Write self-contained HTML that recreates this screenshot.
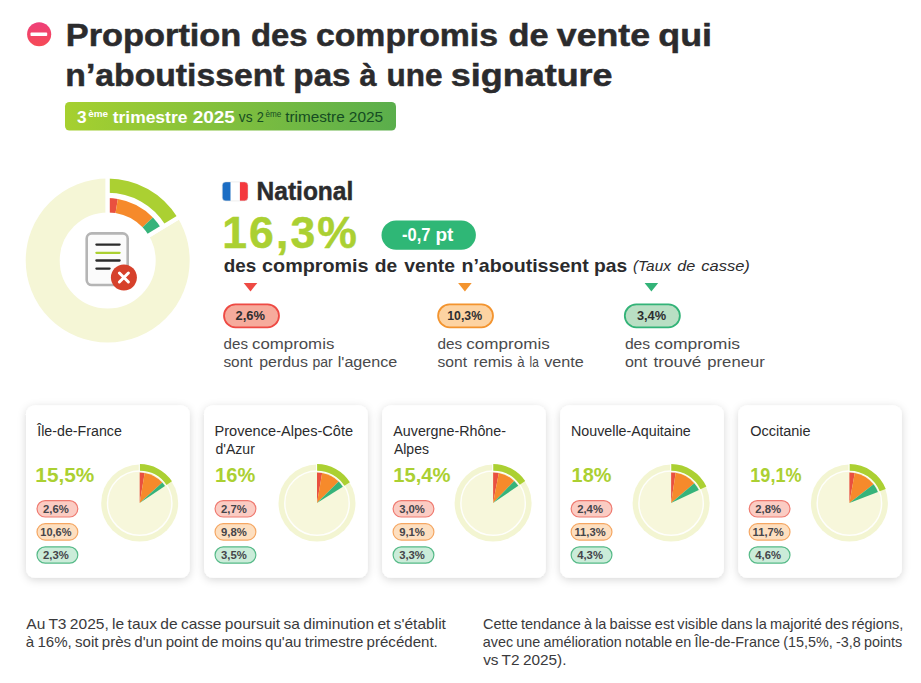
<!DOCTYPE html>
<html lang="fr"><head><meta charset="utf-8"><title>Taux de casse</title>
<style>
html,body{margin:0;padding:0;background:#fff;}
svg{display:block;}
text{font-family:"Liberation Sans",sans-serif;}
.t{font-weight:700;fill:#2b2b2d;}
</style></head><body>
<svg width="921" height="683" viewBox="0 0 921 683">
<defs>
<linearGradient id="pg" x1="0" y1="0" x2="1" y2="0"><stop offset="0" stop-color="#a6d02f"/><stop offset="1" stop-color="#5aae4c"/></linearGradient>
<linearGradient id="rg" x1="0" y1="0" x2="0" y2="1"><stop offset="0" stop-color="#ee3f7a"/><stop offset="1" stop-color="#f64a55"/></linearGradient>
<filter id="sh" x="-20%" y="-20%" width="140%" height="140%"><feDropShadow dx="0" dy="2" stdDeviation="4.5" flood-color="#000" flood-opacity="0.16"/></filter>
</defs>
<rect width="921" height="683" fill="#fff"/>

<circle cx="39.15" cy="34.2" r="12.05" fill="url(#rg)"/><rect x="30.5" y="32.6" width="16.7" height="3.4" rx="0.8" fill="#fff"/>
<text y="45.7" font-size="31.5" font-weight="700" fill="#2b2b2d" stroke="#2b2b2d" stroke-width="0.5"><tspan x="65.82" textLength="175.53" lengthAdjust="spacingAndGlyphs">Proportion</tspan> <tspan x="250.96" textLength="56.58" lengthAdjust="spacingAndGlyphs">des</tspan> <tspan x="315.93" textLength="182.13" lengthAdjust="spacingAndGlyphs">compromis</tspan> <tspan x="508.51" textLength="40.05" lengthAdjust="spacingAndGlyphs">de</tspan> <tspan x="556.8" textLength="93.29" lengthAdjust="spacingAndGlyphs">vente</tspan> <tspan x="658.26" textLength="53.73" lengthAdjust="spacingAndGlyphs">qui</tspan></text>
<text y="85.6" font-size="31.5" font-weight="700" fill="#2b2b2d" stroke="#2b2b2d" stroke-width="0.5"><tspan x="65.36" textLength="219.09" lengthAdjust="spacingAndGlyphs">n’aboutissent</tspan> <tspan x="293.39" textLength="57.15" lengthAdjust="spacingAndGlyphs">pas</tspan> <tspan x="359.5" textLength="17.03" lengthAdjust="spacingAndGlyphs">à</tspan> <tspan x="386.5" textLength="56.02" lengthAdjust="spacingAndGlyphs">une</tspan> <tspan x="450.86" textLength="161.73" lengthAdjust="spacingAndGlyphs">signature</tspan></text>
<rect x="65" y="102" width="331" height="28.5" rx="4.5" fill="url(#pg)"/>
<text font-weight="700" fill="#fff"><tspan x="77.0" y="123.1" font-size="16" textLength="9.59" lengthAdjust="spacingAndGlyphs">3</tspan><tspan x="88.2" y="117.2" font-size="9.5" textLength="19.9" lengthAdjust="spacingAndGlyphs">ème</tspan><tspan x="107.85" y="123.1" font-size="16" textLength="79.54" lengthAdjust="spacingAndGlyphs"> trimestre</tspan><tspan x="187.43" y="123.1" font-size="16" textLength="47.45" lengthAdjust="spacingAndGlyphs"> 2025</tspan></text>
<text font-weight="400" fill="#154c22"><tspan x="238.8" y="121.6" font-size="14" textLength="13.7" lengthAdjust="spacingAndGlyphs">vs</tspan><tspan x="253.15" y="121.6" font-size="14" textLength="10.65" lengthAdjust="spacingAndGlyphs"> 2</tspan><tspan x="265.6" y="116.8" font-size="8.6" textLength="15.79" lengthAdjust="spacingAndGlyphs">ème</tspan><tspan x="280.95" y="121.6" font-size="14.3" textLength="63.8" lengthAdjust="spacingAndGlyphs"> trimestre</tspan><tspan x="344.51" y="121.6" font-size="14.3" textLength="38.64" lengthAdjust="spacingAndGlyphs"> 2025</tspan></text>
<circle cx="107.7" cy="260.5" r="65" fill="none" stroke="#f5f6d6" stroke-width="34"/>
<path d="M107.70,177.00 A83.5,83.5 0 0 1 179.03,217.10 L147.42,236.33 A46.5,46.5 0 0 0 107.70,214.00 Z" fill="#fff" stroke="#fff" stroke-width="4.2"/>
<path d="M107.70,178.50 A82,82 0 0 1 177.75,217.87 L165.62,225.26 A67.8,67.8 0 0 0 107.70,192.70 Z" fill="#abd032"/>
<path d="M107.70,198.10 A62.4,62.4 0 0 1 117.85,198.93 L115.52,213.04 A48.1,48.1 0 0 0 107.70,212.40 Z" fill="#e9503f"/>
<path d="M117.85,198.93 A62.4,62.4 0 0 1 152.92,217.50 L142.56,227.35 A48.1,48.1 0 0 0 115.52,213.04 Z" fill="#f68a2b"/>
<path d="M152.92,217.50 A62.4,62.4 0 0 1 161.01,228.06 L148.79,235.50 A48.1,48.1 0 0 0 142.56,227.35 Z" fill="#36b37a"/>
<line x1="107.70" y1="214.00" x2="107.70" y2="177.00" stroke="#fff" stroke-width="4.2"/>
<line x1="147.42" y1="236.33" x2="179.03" y2="217.10" stroke="#fff" stroke-width="4.2"/>
<rect x="86.7" y="233.4" width="41" height="51.6" rx="5" fill="#fbfbfb" stroke="#b5b5b5" stroke-width="2.6"/>
<line x1="96.4" y1="244.6" x2="119.6" y2="244.6" stroke="#2b2b2b" stroke-width="2.3" stroke-linecap="round"/>
<line x1="96.4" y1="252.8" x2="119.6" y2="252.8" stroke="#abd032" stroke-width="2.3" stroke-linecap="round"/>
<line x1="96.4" y1="260.5" x2="119.6" y2="260.5" stroke="#2b2b2b" stroke-width="2.3" stroke-linecap="round"/>
<line x1="96.4" y1="268.6" x2="109.6" y2="268.6" stroke="#2b2b2b" stroke-width="2.3" stroke-linecap="round"/>
<circle cx="123.9" cy="277.5" r="13" fill="#d6412b"/><path d="M119.4,273 l9,9 M128.4,273 l-9,9" stroke="#fff" stroke-width="3" stroke-linecap="round"/>
<g><clipPath id="fl"><rect x="222.2" y="181.9" width="25.8" height="19" rx="3.6"/></clipPath><g clip-path="url(#fl)"><rect x="222.2" y="181.9" width="8.5" height="19" fill="#1b6dc4"/><rect x="230.7" y="181.9" width="9.2" height="19" fill="#fff"/><rect x="239.9" y="181.9" width="8.2" height="19" fill="#f4383d"/></g><rect x="222.2" y="181.9" width="25.8" height="19" rx="3.6" fill="none" stroke="#dcdcdc" stroke-width="0.5"/></g>
<text y="199.7" font-size="25.8" font-weight="700" fill="#2b2b2d" stroke="#2b2b2d" stroke-width="0.45"><tspan x="256.55" textLength="96.76" lengthAdjust="spacingAndGlyphs">National</tspan></text>
<text y="248" font-size="44.5" font-weight="700" fill="#abd032" stroke="#abd032" stroke-width="0.5"><tspan x="222.2" textLength="134.67" lengthAdjust="spacing">16,3%</tspan></text>
<rect x="381.5" y="220.4" width="94.4" height="29.3" rx="14.65" fill="#2fb776"/>
<text y="241" font-size="18" font-weight="700" fill="#fff"><tspan x="402.0" textLength="28.51" lengthAdjust="spacingAndGlyphs">-0,7</tspan> <tspan x="435.44" textLength="17.95" lengthAdjust="spacingAndGlyphs">pt</tspan></text>
<text y="272" font-size="18.5" font-weight="700" fill="#2b2b2d"><tspan x="223.7" textLength="32.49" lengthAdjust="spacingAndGlyphs">des</tspan> <tspan x="262.1" textLength="106.51" lengthAdjust="spacingAndGlyphs">compromis</tspan> <tspan x="374.8" textLength="22.4" lengthAdjust="spacingAndGlyphs">de</tspan> <tspan x="404.3" textLength="50.7" lengthAdjust="spacingAndGlyphs">vente</tspan> <tspan x="461.44" textLength="127.33" lengthAdjust="spacingAndGlyphs">n’aboutissent</tspan> <tspan x="593.96" textLength="33.14" lengthAdjust="spacingAndGlyphs">pas</tspan></text>
<text y="270.8" font-size="14" font-weight="400" fill="#2b2b2d" font-style="italic"><tspan x="633.0" textLength="37.9" lengthAdjust="spacingAndGlyphs">(Taux</tspan> <tspan x="677.3" textLength="18.05" lengthAdjust="spacingAndGlyphs">de</tspan> <tspan x="701.3" textLength="48.48" lengthAdjust="spacingAndGlyphs">casse)</tspan></text>
<path d="M243.7,282.9 h13.6 l-6.8,8.7 z" fill="#ee4a44"/>
<rect x="224.0" y="304.4" width="55.0" height="22.9" rx="11.45" fill="#f6ab9c" stroke="#ee4a44" stroke-width="1.8"/>
<text y="319.9" font-size="13" font-weight="700" fill="#2e2e30"><tspan x="235.6" textLength="29.46" lengthAdjust="spacingAndGlyphs">2,6%</tspan></text>
<path d="M458.09999999999997,282.9 h13.6 l-6.8,8.7 z" fill="#f3942f"/>
<rect x="438.09999999999997" y="304.4" width="54.900000000000006" height="22.9" rx="11.45" fill="#fdd3a2" stroke="#f3942f" stroke-width="1.8"/>
<text y="319.9" font-size="13" font-weight="700" fill="#2e2e30"><tspan x="447.3" textLength="34.78" lengthAdjust="spacingAndGlyphs">10,3%</tspan></text>
<path d="M644.6,282.9 h13.6 l-6.8,8.7 z" fill="#33b378"/>
<rect x="624.8" y="304.4" width="55.1" height="22.9" rx="11.45" fill="#b9dfc4" stroke="#33b378" stroke-width="1.8"/>
<text y="319.9" font-size="13" font-weight="700" fill="#2e2e30"><tspan x="636.9" textLength="29.17" lengthAdjust="spacingAndGlyphs">3,4%</tspan></text>
<text y="348.7" font-size="14.9" font-weight="400" fill="#4a4a4c"><tspan x="223.6" textLength="24.35" lengthAdjust="spacingAndGlyphs">des</tspan> <tspan x="252.0" textLength="82.3" lengthAdjust="spacingAndGlyphs">compromis</tspan></text>
<text y="348.7" font-size="14.9" font-weight="400" fill="#4a4a4c"><tspan x="437.5" textLength="24.66" lengthAdjust="spacingAndGlyphs">des</tspan> <tspan x="466.27" textLength="83.44" lengthAdjust="spacingAndGlyphs">compromis</tspan></text>
<text y="348.7" font-size="14.9" font-weight="400" fill="#4a4a4c"><tspan x="624.9" textLength="25.27" lengthAdjust="spacingAndGlyphs">des</tspan> <tspan x="654.42" textLength="85.7" lengthAdjust="spacingAndGlyphs">compromis</tspan></text>
<text y="366.5" font-size="14.9" font-weight="400" fill="#4a4a4c"><tspan x="223.4" textLength="29.2" lengthAdjust="spacingAndGlyphs">sont</tspan> <tspan x="259.2" textLength="48.78" lengthAdjust="spacingAndGlyphs">perdus</tspan> <tspan x="312.4" textLength="20.36" lengthAdjust="spacingAndGlyphs">par</tspan> <tspan x="337.72" textLength="59.59" lengthAdjust="spacingAndGlyphs">l'agence</tspan></text>
<text y="366.5" font-size="14.9" font-weight="400" fill="#4a4a4c"><tspan x="437.5" textLength="29.59" lengthAdjust="spacingAndGlyphs">sont</tspan> <tspan x="473.6" textLength="38.88" lengthAdjust="spacingAndGlyphs">remis</tspan> <tspan x="517.2" textLength="7.36" lengthAdjust="spacingAndGlyphs">à</tspan> <tspan x="529.5" textLength="9.22" lengthAdjust="spacingAndGlyphs">la</tspan> <tspan x="544.2" textLength="39.61" lengthAdjust="spacingAndGlyphs">vente</tspan></text>
<text y="366.5" font-size="14.9" font-weight="400" fill="#4a4a4c"><tspan x="624.9" textLength="22.27" lengthAdjust="spacingAndGlyphs">ont</tspan> <tspan x="653.5" textLength="47.83" lengthAdjust="spacingAndGlyphs">trouvé</tspan> <tspan x="707.3" textLength="57.45" lengthAdjust="spacingAndGlyphs">preneur</tspan></text>
<rect x="26.00" y="405.2" width="163.7" height="172.6" rx="9" fill="#fff" filter="url(#sh)"/>
<text y="435.8" font-size="15.2" font-weight="400" fill="#2b2b2d"><tspan x="37.24" textLength="84.58" lengthAdjust="spacingAndGlyphs">Île-de-France</tspan></text>
<text y="482.3" font-size="20.3" font-weight="700" fill="#abd032"><tspan x="35.37" textLength="58.96" lengthAdjust="spacingAndGlyphs">15,5%</tspan></text>
<rect x="37.00" y="500.60" width="40.8" height="16.4" rx="8.2" fill="#fbccc3" stroke="#ef7a70" stroke-width="1.2"/>
<text y="512.5" font-size="11.3" font-weight="700" fill="#45454a"><tspan x="43.05" textLength="25.74" lengthAdjust="spacingAndGlyphs">2,6%</tspan></text>
<rect x="37.00" y="523.70" width="40.8" height="16.4" rx="8.2" fill="#fddfc0" stroke="#f5a763" stroke-width="1.2"/>
<text y="535.6" font-size="11.3" font-weight="700" fill="#45454a"><tspan x="40.35" textLength="31.14" lengthAdjust="spacingAndGlyphs">10,6%</tspan></text>
<rect x="37.00" y="546.80" width="40.8" height="16.4" rx="8.2" fill="#cbecd9" stroke="#56ba88" stroke-width="1.2"/>
<text y="558.7" font-size="11.3" font-weight="700" fill="#45454a"><tspan x="43.05" textLength="25.74" lengthAdjust="spacingAndGlyphs">2,3%</tspan></text>
<circle cx="139.70" cy="503.1" r="38.5" fill="#f3f5d2"/>
<circle cx="139.70" cy="503.1" r="31.6" fill="#f7f7db"/>
<circle cx="139.70" cy="503.1" r="32.2" fill="none" stroke="#fff" stroke-width="1.5" stroke-opacity="0.9"/>
<path d="M139.70,464.10 A39,39 0 0 1 171.96,481.18 L166.50,484.89 A32.4,32.4 0 0 0 139.70,470.70 Z" fill="#abd032"/>
<line x1="139.30" y1="463.1" x2="139.30" y2="471.6" stroke="#fff" stroke-width="1"/>
<path d="M139.70,503.10 L139.70,472.50 A30.6,30.6 0 0 1 144.68,472.91 Z" fill="#e9503f"/>
<path d="M139.70,503.10 L144.68,472.91 A30.6,30.6 0 0 1 162.27,482.43 Z" fill="#f68a2b"/>
<path d="M139.70,503.10 L162.27,482.43 A30.6,30.6 0 0 1 165.01,485.90 Z" fill="#36b37a"/>
<rect x="204.05" y="405.2" width="163.7" height="172.6" rx="9" fill="#fff" filter="url(#sh)"/>
<text y="435.8" font-size="15.2" font-weight="400" fill="#2b2b2d"><tspan x="214.54" textLength="138.59" lengthAdjust="spacingAndGlyphs">Provence-Alpes-Côte</tspan></text>
<text y="453.9" font-size="15.2" font-weight="400" fill="#2b2b2d"><tspan x="215.5" textLength="39.35" lengthAdjust="spacingAndGlyphs">d'Azur</tspan></text>
<text y="482.3" font-size="20.3" font-weight="700" fill="#abd032"><tspan x="215.11" textLength="40.12" lengthAdjust="spacingAndGlyphs">16%</tspan></text>
<rect x="215.05" y="500.60" width="40.8" height="16.4" rx="8.2" fill="#fbccc3" stroke="#ef7a70" stroke-width="1.2"/>
<text y="512.5" font-size="11.3" font-weight="700" fill="#45454a"><tspan x="221.1" textLength="25.74" lengthAdjust="spacingAndGlyphs">2,7%</tspan></text>
<rect x="215.05" y="523.70" width="40.8" height="16.4" rx="8.2" fill="#fddfc0" stroke="#f5a763" stroke-width="1.2"/>
<text y="535.6" font-size="11.3" font-weight="700" fill="#45454a"><tspan x="221.1" textLength="25.74" lengthAdjust="spacingAndGlyphs">9,8%</tspan></text>
<rect x="215.05" y="546.80" width="40.8" height="16.4" rx="8.2" fill="#cbecd9" stroke="#56ba88" stroke-width="1.2"/>
<text y="558.7" font-size="11.3" font-weight="700" fill="#45454a"><tspan x="221.1" textLength="25.74" lengthAdjust="spacingAndGlyphs">3,5%</tspan></text>
<circle cx="317.00" cy="503.1" r="38.5" fill="#f3f5d2"/>
<circle cx="317.00" cy="503.1" r="31.6" fill="#f7f7db"/>
<circle cx="317.00" cy="503.1" r="32.2" fill="none" stroke="#fff" stroke-width="1.5" stroke-opacity="0.9"/>
<path d="M317.00,464.10 A39,39 0 0 1 349.93,482.20 L344.36,485.74 A32.4,32.4 0 0 0 317.00,470.70 Z" fill="#abd032"/>
<line x1="316.60" y1="463.1" x2="316.60" y2="471.6" stroke="#fff" stroke-width="1"/>
<path d="M317.00,503.10 L317.00,472.50 A30.6,30.6 0 0 1 322.17,472.94 Z" fill="#e9503f"/>
<path d="M317.00,503.10 L322.17,472.94 A30.6,30.6 0 0 1 338.64,481.46 Z" fill="#f68a2b"/>
<path d="M317.00,503.10 L338.64,481.46 A30.6,30.6 0 0 1 342.84,486.70 Z" fill="#36b37a"/>
<rect x="382.10" y="405.2" width="163.7" height="172.6" rx="9" fill="#fff" filter="url(#sh)"/>
<text y="435.8" font-size="15.2" font-weight="400" fill="#2b2b2d"><tspan x="393.3" textLength="112.65" lengthAdjust="spacingAndGlyphs">Auvergne-Rhône-</tspan></text>
<text y="453.9" font-size="15.2" font-weight="400" fill="#2b2b2d"><tspan x="393.9" textLength="35.03" lengthAdjust="spacingAndGlyphs">Alpes</tspan></text>
<text y="482.3" font-size="20.3" font-weight="700" fill="#abd032"><tspan x="393.2" textLength="57.33" lengthAdjust="spacingAndGlyphs">15,4%</tspan></text>
<rect x="393.10" y="500.60" width="40.8" height="16.4" rx="8.2" fill="#fbccc3" stroke="#ef7a70" stroke-width="1.2"/>
<text y="512.5" font-size="11.3" font-weight="700" fill="#45454a"><tspan x="399.15" textLength="25.74" lengthAdjust="spacingAndGlyphs">3,0%</tspan></text>
<rect x="393.10" y="523.70" width="40.8" height="16.4" rx="8.2" fill="#fddfc0" stroke="#f5a763" stroke-width="1.2"/>
<text y="535.6" font-size="11.3" font-weight="700" fill="#45454a"><tspan x="399.15" textLength="25.74" lengthAdjust="spacingAndGlyphs">9,1%</tspan></text>
<rect x="393.10" y="546.80" width="40.8" height="16.4" rx="8.2" fill="#cbecd9" stroke="#56ba88" stroke-width="1.2"/>
<text y="558.7" font-size="11.3" font-weight="700" fill="#45454a"><tspan x="399.15" textLength="25.74" lengthAdjust="spacingAndGlyphs">3,3%</tspan></text>
<circle cx="493.10" cy="503.1" r="38.5" fill="#f3f5d2"/>
<circle cx="493.10" cy="503.1" r="31.6" fill="#f7f7db"/>
<circle cx="493.10" cy="503.1" r="32.2" fill="none" stroke="#fff" stroke-width="1.5" stroke-opacity="0.9"/>
<path d="M493.10,464.10 A39,39 0 0 1 525.22,480.98 L519.78,484.72 A32.4,32.4 0 0 0 493.10,470.70 Z" fill="#abd032"/>
<line x1="492.70" y1="463.1" x2="492.70" y2="471.6" stroke="#fff" stroke-width="1"/>
<path d="M493.10,503.10 L493.10,472.50 A30.6,30.6 0 0 1 498.83,473.04 Z" fill="#e9503f"/>
<path d="M493.10,503.10 L498.83,473.04 A30.6,30.6 0 0 1 514.19,480.93 Z" fill="#f68a2b"/>
<path d="M493.10,503.10 L514.19,480.93 A30.6,30.6 0 0 1 518.30,485.74 Z" fill="#36b37a"/>
<rect x="560.15" y="405.2" width="163.7" height="172.6" rx="9" fill="#fff" filter="url(#sh)"/>
<text y="435.8" font-size="15.2" font-weight="400" fill="#2b2b2d"><tspan x="570.96" textLength="119.86" lengthAdjust="spacingAndGlyphs">Nouvelle-Aquitaine</tspan></text>
<text y="482.3" font-size="20.3" font-weight="700" fill="#abd032"><tspan x="571.62" textLength="39.81" lengthAdjust="spacingAndGlyphs">18%</tspan></text>
<rect x="571.15" y="500.60" width="40.8" height="16.4" rx="8.2" fill="#fbccc3" stroke="#ef7a70" stroke-width="1.2"/>
<text y="512.5" font-size="11.3" font-weight="700" fill="#45454a"><tspan x="577.2" textLength="25.74" lengthAdjust="spacingAndGlyphs">2,4%</tspan></text>
<rect x="571.15" y="523.70" width="40.8" height="16.4" rx="8.2" fill="#fddfc0" stroke="#f5a763" stroke-width="1.2"/>
<text y="535.6" font-size="11.3" font-weight="700" fill="#45454a"><tspan x="574.5" textLength="31.14" lengthAdjust="spacingAndGlyphs">11,3%</tspan></text>
<rect x="571.15" y="546.80" width="40.8" height="16.4" rx="8.2" fill="#cbecd9" stroke="#56ba88" stroke-width="1.2"/>
<text y="558.7" font-size="11.3" font-weight="700" fill="#45454a"><tspan x="577.2" textLength="25.74" lengthAdjust="spacingAndGlyphs">4,3%</tspan></text>
<circle cx="671.10" cy="503.1" r="38.5" fill="#f3f5d2"/>
<circle cx="671.10" cy="503.1" r="31.6" fill="#f7f7db"/>
<circle cx="671.10" cy="503.1" r="32.2" fill="none" stroke="#fff" stroke-width="1.5" stroke-opacity="0.9"/>
<path d="M671.10,464.10 A39,39 0 0 1 706.39,486.49 L700.42,489.30 A32.4,32.4 0 0 0 671.10,470.70 Z" fill="#abd032"/>
<line x1="670.70" y1="463.1" x2="670.70" y2="471.6" stroke="#fff" stroke-width="1"/>
<path d="M671.10,503.10 L671.10,472.50 A30.6,30.6 0 0 1 675.70,472.85 Z" fill="#e9503f"/>
<path d="M671.10,503.10 L675.70,472.85 A30.6,30.6 0 0 1 694.31,483.15 Z" fill="#f68a2b"/>
<path d="M671.10,503.10 L694.31,483.15 A30.6,30.6 0 0 1 698.79,490.07 Z" fill="#36b37a"/>
<rect x="738.20" y="405.2" width="163.7" height="172.6" rx="9" fill="#fff" filter="url(#sh)"/>
<text y="435.8" font-size="15.2" font-weight="400" fill="#2b2b2d"><tspan x="750.2" textLength="60.43" lengthAdjust="spacingAndGlyphs">Occitanie</tspan></text>
<text y="482.3" font-size="20.3" font-weight="700" fill="#abd032"><tspan x="750.31" textLength="51.22" lengthAdjust="spacingAndGlyphs">19,1%</tspan></text>
<rect x="749.20" y="500.60" width="40.8" height="16.4" rx="8.2" fill="#fbccc3" stroke="#ef7a70" stroke-width="1.2"/>
<text y="512.5" font-size="11.3" font-weight="700" fill="#45454a"><tspan x="755.25" textLength="25.74" lengthAdjust="spacingAndGlyphs">2,8%</tspan></text>
<rect x="749.20" y="523.70" width="40.8" height="16.4" rx="8.2" fill="#fddfc0" stroke="#f5a763" stroke-width="1.2"/>
<text y="535.6" font-size="11.3" font-weight="700" fill="#45454a"><tspan x="752.55" textLength="31.14" lengthAdjust="spacingAndGlyphs">11,7%</tspan></text>
<rect x="749.20" y="546.80" width="40.8" height="16.4" rx="8.2" fill="#cbecd9" stroke="#56ba88" stroke-width="1.2"/>
<text y="558.7" font-size="11.3" font-weight="700" fill="#45454a"><tspan x="755.25" textLength="25.74" lengthAdjust="spacingAndGlyphs">4,6%</tspan></text>
<circle cx="849.40" cy="503.1" r="38.5" fill="#f3f5d2"/>
<circle cx="849.40" cy="503.1" r="31.6" fill="#f7f7db"/>
<circle cx="849.40" cy="503.1" r="32.2" fill="none" stroke="#fff" stroke-width="1.5" stroke-opacity="0.9"/>
<path d="M849.40,464.10 A39,39 0 0 1 885.75,488.97 L879.60,491.36 A32.4,32.4 0 0 0 849.40,470.70 Z" fill="#abd032"/>
<line x1="849.00" y1="463.1" x2="849.00" y2="471.6" stroke="#fff" stroke-width="1"/>
<path d="M849.40,503.10 L849.40,472.50 A30.6,30.6 0 0 1 854.76,472.97 Z" fill="#e9503f"/>
<path d="M849.40,503.10 L854.76,472.97 A30.6,30.6 0 0 1 873.58,484.35 Z" fill="#f68a2b"/>
<path d="M849.40,503.10 L873.58,484.35 A30.6,30.6 0 0 1 877.92,492.01 Z" fill="#36b37a"/>
<text x="26.3" y="629.4" font-size="14.8" fill="#3a3a3c" word-spacing="-0.9" textLength="419.6" lengthAdjust="spacingAndGlyphs">Au T3 2025, le taux de casse poursuit sa diminution et s'établit</text>
<text x="25.8" y="646.9" font-size="14.8" fill="#3a3a3c" word-spacing="-0.9" textLength="412" lengthAdjust="spacingAndGlyphs">à 16%, soit près d'un point de moins qu'au trimestre précédent.</text>
<text x="483.0" y="629.4" font-size="14.8" fill="#3a3a3c" word-spacing="-0.9" textLength="420.3" lengthAdjust="spacingAndGlyphs">Cette tendance à la baisse est visible dans la majorité des régions,</text>
<text x="482.8" y="646.9" font-size="14.8" fill="#3a3a3c" word-spacing="-0.9" textLength="419.5" lengthAdjust="spacingAndGlyphs">avec une amélioration notable en Île-de-France (15,5%, -3,8 points</text>
<text x="483.2" y="664.5" font-size="14.8" fill="#3a3a3c" word-spacing="-0.9" textLength="83.3" lengthAdjust="spacingAndGlyphs">vs T2 2025).</text>
</svg></body></html>
